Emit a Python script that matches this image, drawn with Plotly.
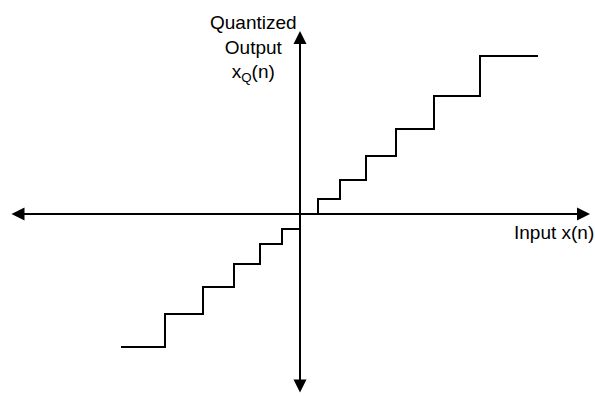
import plotly.graph_objects as go

# Quantizer transfer characteristic (arbitrary units)
pos_thresholds = [0.9, 2.0, 3.3, 4.8, 6.7, 9.0]
pos_levels = [0.75, 1.7, 2.9, 4.25, 5.9, 7.9]
pos_end = 11.9

neg_thresholds = [-0.9, -2.0, -3.3, -4.85, -6.75]
neg_levels = [-0.75, -1.5, -2.5, -3.65, -5.0, -6.65]
neg_end = -8.95

x_label = "Input x(n)"
y_label = "Quantized<br>Output<br>x<sub>Q</sub>(n)"

# positive half: rise at each threshold, hold level until the next one
pos_x = pos_thresholds + [pos_end]
pos_y = [0] + pos_levels

# negative half, ordered left to right
neg_x = [neg_end] + neg_thresholds[::-1] + [0]
neg_y = neg_levels[::-1] + [neg_levels[0]]

fig = go.Figure()
fig.add_trace(go.Scatter(x=pos_x, y=pos_y, mode="lines",
                         line=dict(color="black", width=2, shape="vh"),
                         hoverinfo="skip"))
fig.add_trace(go.Scatter(x=neg_x, y=neg_y, mode="lines",
                         line=dict(color="black", width=2, shape="hv"),
                         hoverinfo="skip"))

font = dict(family="Liberation Sans, Arial, sans-serif", size=19, color="black")

# double-headed axis arrows
fig.add_annotation(x=14.5, y=0, ax=-14.5, ay=0, xref="x", yref="y",
                   axref="x", ayref="y", text="", showarrow=True,
                   arrowhead=2, arrowside="end+start", arrowsize=1.3,
                   arrowwidth=2, arrowcolor="black")
fig.add_annotation(x=0, y=9.15, ax=0, ay=-9.0, xref="x", yref="y",
                   axref="x", ayref="y", text="", showarrow=True,
                   arrowhead=2, arrowside="end+start", arrowsize=1.3,
                   arrowwidth=2, arrowcolor="black")

fig.add_annotation(x=10.6, y=-0.9, xref="x", yref="y", text=x_label,
                   showarrow=False, xanchor="left", yanchor="middle", font=font)
fig.add_annotation(x=-2.35, y=10.2, xref="x", yref="y", text=y_label,
                   showarrow=False, xanchor="center", yanchor="top",
                   align="center", font=font)

axis_common = dict(visible=False, showgrid=False, zeroline=False, fixedrange=True)
fig.update_layout(
    width=595, height=396,
    margin=dict(l=0, r=0, t=0, b=0),
    paper_bgcolor="white", plot_bgcolor="white",
    showlegend=False,
    xaxis=dict(range=[-15, 14.75], **axis_common),
    yaxis=dict(range=[-9.1, 10.7], **axis_common),
)

fig.write_html("out.html")
